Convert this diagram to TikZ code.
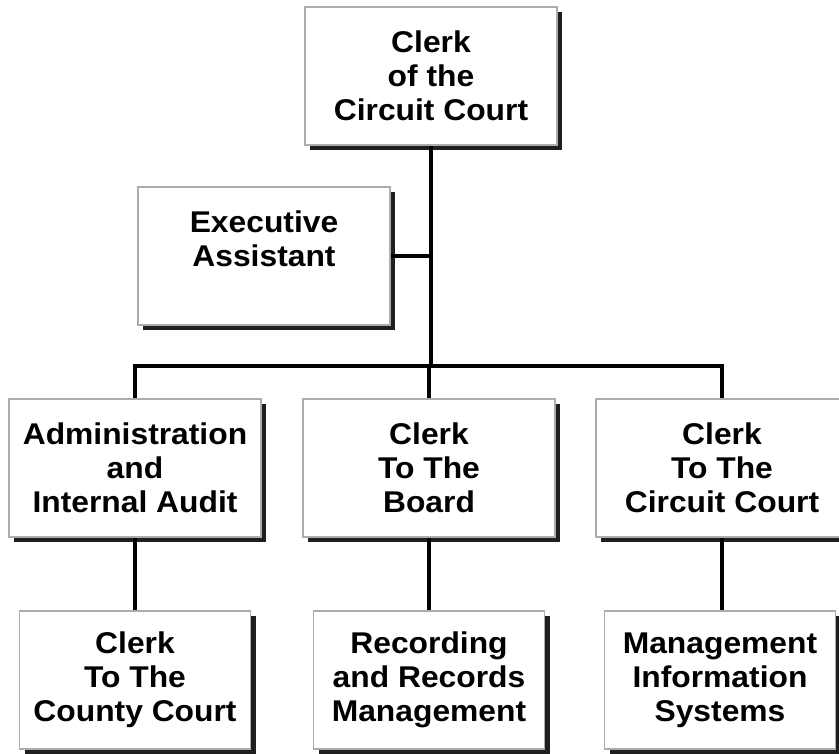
\documentclass[tikz,border=0pt]{standalone}
\usepackage{fontspec}
\setmainfont[FakeStretch=1.06]{Liberation Sans}
\usetikzlibrary{shadows}
\begin{document}
\begin{tikzpicture}[x=1pt,y=-1pt,
  unit/.style={draw=gray!65, line width=1.2pt, fill=white,
    minimum width=252pt, minimum height=138pt, inner sep=0pt, align=center,
    font=\fontsize{30}{34}\selectfont\bfseries,
    drop shadow={shadow xshift=5pt, shadow yshift=-5pt, fill=black!88, opacity=1}},
  narrow/.style={unit, minimum width=231pt},
  link/.style={line width=3.3pt}]
\clip (0,0) rectangle (839,754);

% top of the office
\node[unit] (clerk) at (431,76) {Clerk\\of the\\Circuit Court};
\node[unit] (exec) at (264,256) {Executive\\Assistant\\\mbox{}};

% divisions
\node[unit] (admin) at (135,468) {Administration\\and\\Internal Audit};
\node[unit] (board) at (429,468) {Clerk\\To The\\Board};
\node[unit] (circuit) at (722,468) {Clerk\\To The\\Circuit Court};

% sections
\node[narrow] (county) at (135,680) {Clerk\\To The\\County Court};
\node[narrow] (records) at (429,680) {Recording\\and Records\\Management};
\node[narrow] (mis) at (720,680) {Management\\Information\\Systems};

% reporting lines
\coordinate (bus) at (431,366);
\draw[link] (clerk.south) -- (bus);
\draw[link] (exec.east) -- (exec.east -| clerk.south);
\draw[link] (admin.north) |- (bus) -| (circuit.north);
\draw[link] (board.north) -- (board.north |- bus);
\draw[link] (admin.south) -- (county.north);
\draw[link] (board.south) -- (records.north);
\draw[link] (circuit.south) -- (circuit.south |- mis.north);
\end{tikzpicture}
\end{document}
